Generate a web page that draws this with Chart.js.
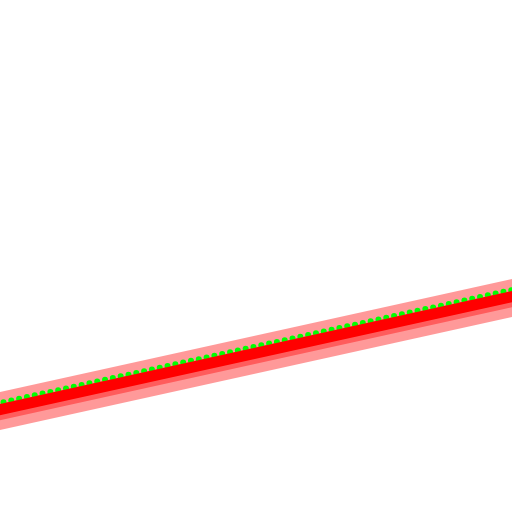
<!DOCTYPE html>
<html>
<head>
<meta charset="utf-8">
<script src="https://cdn.jsdelivr.net/npm/chart.js@4/dist/chart.umd.min.js"></script>
<style>
  html, body { margin: 0; padding: 0; background: #fff; }
  canvas { display: block; }
</style>
</head>
<body>
<canvas id="lineChart" width="512" height="512"></canvas>
<script>
  // x positions (a bit past both edges so the lines run off the canvas)
  const xs = [-10, 110];
  // y values of each stroke
  const wideBand = [17.52, 44.01];
  const midBand = [17.32, 43.81];
  const redLine = [17.79, 44.28];
  const greenDots = [19.08, 45.57];

  const pts = vals => xs.map((x, i) => ({ x: x, y: vals[i] }));

  const ctx = document.getElementById('lineChart').getContext('2d');
  const lineChart = new Chart(ctx, {
    type: 'line',
    data: {
      datasets: [
        {
          data: pts(redLine),
          borderColor: '#ff0000',
          borderWidth: 11,
          order: 1
        },
        {
          data: pts(greenDots),
          borderColor: '#00ff00',
          borderWidth: 6,
          borderDash: [0, 8],
          borderCapStyle: 'round',
          order: 2
        },
        {
          data: pts(midBand),
          borderColor: 'rgba(255, 0, 0, 0.4)',
          borderWidth: 16,
          order: 3
        },
        {
          data: pts(wideBand),
          borderColor: 'rgba(255, 0, 0, 0.4)',
          borderWidth: 37,
          order: 4
        }
      ]
    },
    options: {
      responsive: false,
      animation: false,
      events: [],
      layout: { padding: 0 },
      elements: { point: { radius: 0 }, line: { tension: 0 } },
      plugins: { legend: { display: false }, tooltip: { enabled: false } },
      scales: {
        x: { type: 'linear', min: 0, max: 100, display: false },
        y: { type: 'linear', min: 0, max: 100, display: false }
      }
    }
  });
</script>
</body>
</html>
